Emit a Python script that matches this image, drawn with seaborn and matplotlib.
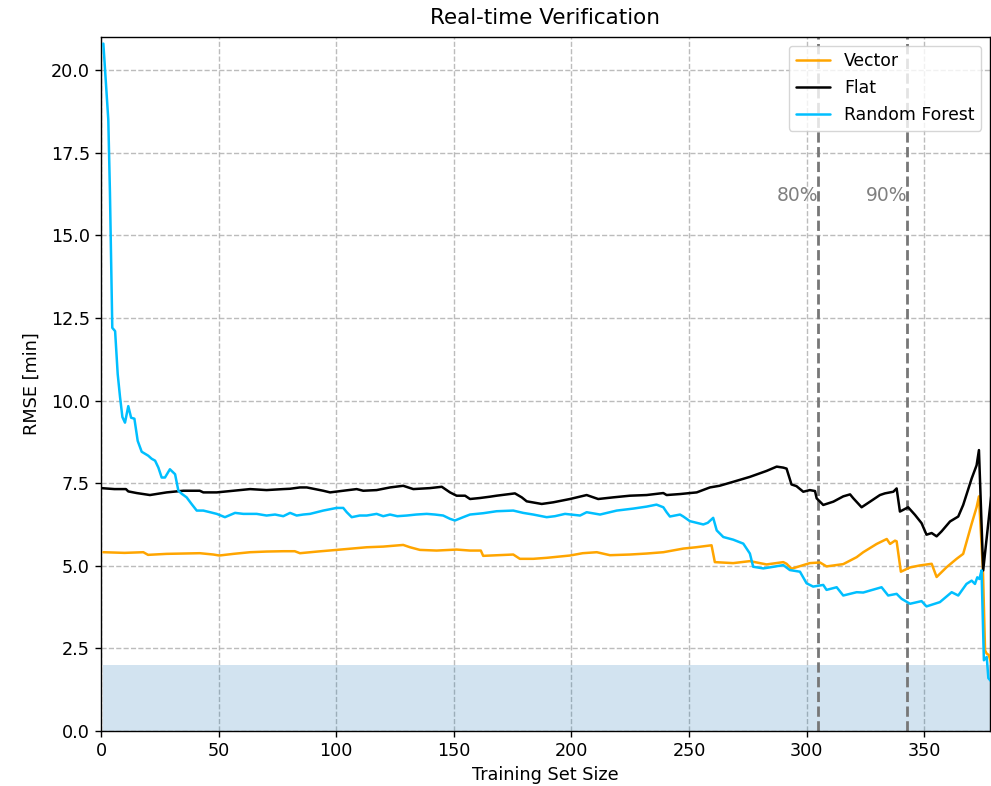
import numpy as np
import pandas as pd
import matplotlib
matplotlib.use("Agg")
import matplotlib.pyplot as plt
import seaborn as sns

# ---------------- data ----------------
vector_x = [1, 10, 18, 20, 27.9, 42, 47.8, 50.3, 56.3, 63.4, 70.4, 77.5, 82.4, 84.6, 92,
            100.2, 113, 120, 128.5, 131.4, 135.6, 142.7, 151.2, 156.9, 161.5, 162.5, 175.3,
            178.1, 183.8, 189.5, 199.4, 204.8, 210.8, 216.4, 224.9, 232, 239.1, 247.6, 253,
            259.6, 261, 268.8, 275.9, 283, 290.1, 291.5, 293.6, 301.4, 305.7, 308.5, 315.6,
            321.3, 324.1, 329.8, 334.1, 335.5, 337.6, 338.3, 340.1, 344, 348.2, 353.2, 355.3,
            359.6, 363.8, 366.6, 370.2, 372.3, 373.3, 375, 375.9, 376.6, 377.5, 378.5]
vector_y = [5.41, 5.39, 5.41, 5.33, 5.36, 5.38, 5.34, 5.31, 5.36, 5.41, 5.43, 5.44, 5.44, 5.38, 5.43,
            5.48, 5.56, 5.58, 5.63, 5.56, 5.48, 5.46, 5.49, 5.46, 5.46, 5.30, 5.34,
            5.21, 5.21, 5.24, 5.31, 5.38, 5.41, 5.32, 5.34, 5.37, 5.41, 5.52, 5.56,
            5.62, 5.11, 5.08, 5.14, 5.04, 5.11, 5.06, 4.91, 5.08, 5.10, 4.98, 5.05,
            5.26, 5.41, 5.66, 5.81, 5.66, 5.76, 5.74, 4.82, 4.95, 5.01, 5.06, 4.66,
            4.96, 5.21, 5.36, 6.27, 6.77, 7.10, 4.86, 2.44, 2.34, 2.30, 2.05]

flat_x = [0, 5.7, 10.6, 11.6, 15.2, 20.8, 27.9, 35, 42, 43.5, 49.2, 56.3, 63.4, 70.4, 77.5,
          80.4, 84.6, 87.5, 94.5, 97.4, 103, 108.7, 111.5, 117.2, 122.9, 128.5, 132.8, 139.9,
          144.9, 148.4, 151.2, 154.8, 156.9, 161.1, 165.4, 168.2, 176, 178.9, 181, 187.4,
          192.3, 199.4, 206.5, 211.4, 217.8, 224.9, 232, 239.1, 240.5, 246.2, 250.4, 253.3,
          258.9, 263, 268.8, 275.9, 283, 287.3, 290.1, 291.5, 293.6, 295.7, 298.6, 301.4,
          303.6, 304.3, 307.1, 311.4, 315.6, 318.5, 319.9, 323.4, 327, 331.2, 333.3, 336.9,
          338.3, 339.7, 343.2, 346.1, 348.9, 351, 353.2, 355.3, 357.4, 361, 364.5, 366.6,
          370.2, 372.3, 373.3, 375.1, 378.5]
flat_y = [7.35, 7.32, 7.32, 7.25, 7.20, 7.14, 7.22, 7.27, 7.27, 7.22, 7.22, 7.27, 7.32, 7.29, 7.32,
          7.33, 7.37, 7.37, 7.27, 7.22, 7.27, 7.32, 7.27, 7.29, 7.37, 7.42, 7.32, 7.35,
          7.39, 7.22, 7.12, 7.12, 7.02, 7.05, 7.09, 7.12, 7.19, 7.07, 6.95, 6.87,
          6.92, 7.02, 7.14, 7.02, 7.07, 7.12, 7.14, 7.20, 7.14, 7.17, 7.20, 7.22,
          7.37, 7.42, 7.54, 7.69, 7.87, 8.00, 7.97, 7.94, 7.46, 7.41, 7.24, 7.29,
          7.26, 7.04, 6.84, 6.94, 7.10, 7.16, 7.04, 6.77, 6.94, 7.14, 7.19, 7.24,
          7.34, 6.64, 6.77, 6.54, 6.29, 5.94, 5.99, 5.89, 6.04, 6.34, 6.49, 6.84,
          7.64, 8.04, 8.50, 4.86, 7.10]

rf_x = [1, 3.1, 3.8, 4.8, 6.0, 7.1, 8.1, 9.1, 10.2, 11.6, 12.8, 14.2, 15.6, 17.3, 20.1, 21.5,
        23.0, 24.4, 25.8, 27.2, 29.3, 31.5, 32.9, 34.3, 36.4, 38.5, 40.7, 43.5, 46.4, 49.2,
        52.7, 57, 60.5, 63.4, 66.2, 70.4, 74, 77.5, 80.4, 83.2, 86, 88.9, 94.5, 100.2, 103,
        104.5, 106.6, 110, 113, 117.2, 120, 122.9, 126, 130, 134, 138.5, 142, 145.5, 148.4,
        150.5, 154, 156.9, 162.5, 168.2, 175.3, 179.5, 183.8, 189.5, 193, 197.3, 203.7, 206.5,
        212.2, 219.3, 226.3, 232, 236.2, 239.1, 240.5, 241.9, 246.2, 247.6, 250.4, 256.1, 258,
        260.3, 261.8, 264.6, 268.8, 273.1, 275.9, 277.3, 281.6, 286, 290.1, 292.9, 297.2, 300,
        302.8, 307.1, 308.5, 312.8, 315.6, 321.3, 324.1, 327, 331.9, 334.7, 338.3, 340.4, 344,
        348.9, 351, 356.7, 361.7, 364.5, 368, 370.2, 371.6, 372.6, 373.5, 374.4, 375.4, 376.6,
        377.3, 378.5]
rf_y = [20.8, 18.5, 16.3, 12.2, 12.1, 10.8, 10.1, 9.5, 9.33, 9.83, 9.48, 9.45, 8.78, 8.45, 8.33, 8.24,
        8.18, 7.97, 7.67, 7.67, 7.92, 7.77, 7.27, 7.18, 7.07, 6.87, 6.67, 6.67, 6.62, 6.57,
        6.47, 6.60, 6.57, 6.57, 6.57, 6.52, 6.55, 6.50, 6.60, 6.52, 6.55, 6.57, 6.67, 6.75, 6.75,
        6.62, 6.47, 6.52, 6.52, 6.57, 6.50, 6.55, 6.50, 6.52, 6.55, 6.57, 6.55, 6.52, 6.42,
        6.37, 6.47, 6.55, 6.59, 6.65, 6.67, 6.60, 6.55, 6.47, 6.50, 6.57, 6.52, 6.62,
        6.55, 6.67, 6.73, 6.79, 6.85, 6.77, 6.62, 6.49, 6.55, 6.49, 6.35, 6.25, 6.30,
        6.45, 6.07, 5.87, 5.79, 5.67, 5.37, 4.97, 4.92, 4.97, 5.02, 4.87, 4.82, 4.47,
        4.37, 4.42, 4.27, 4.35, 4.10, 4.20, 4.19, 4.25, 4.35, 4.10, 4.15, 4.00, 3.85,
        3.93, 3.77, 3.90, 4.20, 4.10, 4.45, 4.55, 4.45, 4.65, 4.60, 4.86, 2.14, 2.24,
        1.60, 1.50]

series_names = ["Vector", "Flat", "Random Forest"]
series_colors = ["orange", "black", "deepskyblue"]
threshold = 2.0
split_positions = [304.8, 342.9]
split_labels = ["80%", "90%"]
xlim = (0, 378)
ylim = (0, 21)

# ---------------- plotting ----------------
sns.set_theme(style="ticks")
plt.rcParams["font.family"] = ["DejaVu Sans"]
plt.rcParams["text.color"] = "black"
plt.rcParams["axes.labelcolor"] = "black"

frames = []
for name, xs, ys in zip(series_names, [vector_x, flat_x, rf_x], [vector_y, flat_y, rf_y]):
    frames.append(pd.DataFrame({"Training Set Size": xs, "RMSE [min]": ys, "Model": name}))
df = pd.concat(frames, ignore_index=True)

fig = plt.figure(figsize=(9.91, 7.86), dpi=100)
ax = fig.add_axes([101 / 991, 1 - 731 / 786, (990 - 101) / 991, (731 - 37) / 786])

ax.grid(True, linestyle="--", color="#b5b5b5", linewidth=1.0, alpha=0.9, zorder=0)
ax.set_axisbelow(True)

ax.fill_between([rf_x[0], rf_x[-1]], 0, threshold, color="tab:blue", alpha=0.2,
                linewidth=0, zorder=1)

sns.lineplot(data=df, x="Training Set Size", y="RMSE [min]", hue="Model",
             hue_order=series_names, palette=dict(zip(series_names, series_colors)),
             estimator=None, sort=False, linewidth=1.8, ax=ax, zorder=3)

for pos, lab in zip(split_positions, split_labels):
    ax.axvline(pos, color="#777777", linestyle="--", linewidth=2.0, zorder=2)
    ax.text(pos, 16.2, lab, ha="right", va="center", color="gray", fontsize=13.5)

ax.set_xlim(*xlim)
ax.set_ylim(*ylim)
ax.set_xticks(np.arange(0, 351, 50))
ax.set_yticks(np.arange(0, 20.1, 2.5))
ax.yaxis.set_major_formatter(matplotlib.ticker.FormatStrFormatter("%.1f"))
ax.tick_params(labelsize=12.7, length=4.5, width=1.0, colors="black")
for sp in ax.spines.values():
    sp.set_visible(True)
    sp.set_color("black")
    sp.set_linewidth(1.0)

ax.set_xlabel("Training Set Size", fontsize=12.7, labelpad=4)
ax.set_ylabel("RMSE [min]", fontsize=12.7, labelpad=7)
ax.set_title("Real-time Verification", fontsize=15.5, pad=9, color="black")

sns.move_legend(ax, "upper right", title=None, fontsize=12.4, frameon=True,
                framealpha=0.8, edgecolor="#cccccc", fancybox=True)

fig.savefig("out.png", dpi=100)
